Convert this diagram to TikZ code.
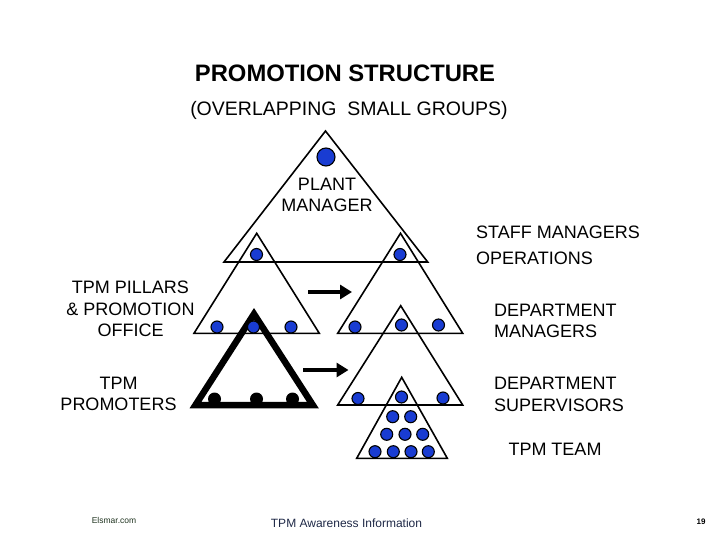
\documentclass[tikz,border=0pt]{standalone}
\usepackage{fontspec}
\setmainfont{Liberation Sans}
\usetikzlibrary{arrows.meta}
\definecolor{dotblue}{RGB}{25,60,210}
\definecolor{footnavy}{RGB}{30,40,70}
\definecolor{footgreen}{RGB}{30,50,30}
\tikzset{
  tri/.style={draw=black, line width=1.6pt, line join=miter},
  thicktri/.style={draw=black, line width=6.5pt, line join=miter},
  bdot/.style={circle, draw=black, line width=1.1pt, fill=dotblue, minimum size=12pt, inner sep=0pt},
  bigdot/.style={circle, draw=black, line width=1.1pt, fill=dotblue, minimum size=18pt, inner sep=0pt},
  kdot/.style={circle, fill=black, minimum size=13pt, inner sep=0pt},
  lbl/.style={font=\fontsize{18}{21.5}\selectfont, inner sep=0pt},
  movearrow/.style={line width=4.2pt, -{Triangle[length=12pt,width=14pt]}},
}
\begin{document}
\begin{tikzpicture}[x=1pt,y=-1pt]
\useasboundingbox (0,0) rectangle (720,540);

% titles
\node[font=\fontsize{23.8}{28}\selectfont\bfseries, inner sep=0pt] (title) at (345,73) {PROMOTION STRUCTURE};
\node[font=\fontsize{19.5}{23}\selectfont, inner sep=0pt] (subtitle) at (349,110) {(OVERLAPPING~~SMALL GROUPS)};

% top triangle
\draw[tri] (325.5,131) -- (427.7,262) -- (224,262) -- cycle;
\node[bigdot] (pm) at (326,157) {};
\node[lbl, align=center] (pmlbl) at (327,195) {PLANT\\MANAGER};

% left middle triangle
\draw[tri] (256.7,233.3) -- (319.3,333.3) -- (194,333.3) -- cycle;
% thick promoters triangle
\draw[thicktri] (254,314) -- (312.8,405) -- (195.5,405) -- cycle;
\node[kdot] (k1) at (214.5,399) {};
\node[kdot] (k2) at (256.5,399) {};
\node[kdot] (k3) at (292.5,399) {};
\node[bdot] (l0) at (256.5,254.5) {};
\node[bdot] (l1) at (217,327) {};
\node[bdot] (l2) at (253.5,327) {};
\node[bdot] (l3) at (291,327) {};

% right middle triangle
\draw[tri] (400.5,233.3) -- (462.7,333.3) -- (337.7,333.3) -- cycle;
% lower right triangle
\draw[tri] (400.7,305.7) -- (462.7,405) -- (337.7,405) -- cycle;
% team triangle
\draw[tri] (401.7,377.3) -- (447.3,458.3) -- (356.7,458.3) -- cycle;

\node[bdot] (r0) at (400,254.5) {};
\node[bdot] (r1) at (355,327) {};
\node[bdot] (r2) at (401.5,325) {};
\node[bdot] (r3) at (438.5,325) {};
\node[bdot] (s1) at (358,398.5) {};
\node[bdot] (s2) at (401.5,397) {};
\node[bdot] (s3) at (443,398) {};
\node[bdot] (t1) at (392.7,416.7) {};
\node[bdot] (t2) at (410.7,416.7) {};
\node[bdot] (t3) at (386.7,434.3) {};
\node[bdot] (t4) at (405,434.3) {};
\node[bdot] (t5) at (422.7,434.3) {};
\node[bdot] (t6) at (375,451.7) {};
\node[bdot] (t7) at (393.3,451.7) {};
\node[bdot] (t8) at (411,451.7) {};
\node[bdot] (t9) at (428.3,451.7) {};

% arrows
\coordinate (a1s) at (308,292);
\coordinate (a1e) at (352,292);
\coordinate (a2s) at (303,370);
\coordinate (a2e) at (348.5,370);
\draw[movearrow] (a1s) -- (a1e);
\draw[movearrow] (a2s) -- (a2e);

% labels
\node[lbl, align=left, anchor=west] (staff) at (476,245.8) {STAFF MANAGERS\\[4.5pt]OPERATIONS};
\node[lbl, align=center] (pillars) at (130.5,309) {TPM PILLARS\\\& PROMOTION\\OFFICE};
\node[lbl, align=center] (promoters) at (118.5,394) {TPM\\PROMOTERS};
\node[lbl, align=left, anchor=west] (deptmgr) at (494,321) {DEPARTMENT\\MANAGERS};
\node[lbl, align=left, anchor=west] (deptsup) at (494,394.5) {DEPARTMENT\\SUPERVISORS};
\node[lbl] (team) at (555,449) {TPM TEAM};

% footer
\node[font=\fontsize{8.5}{10}\selectfont, text=footgreen, inner sep=0pt] (site) at (114,520) {Elsmar.com};
\node[font=\fontsize{12}{14}\selectfont, text=footnavy, inner sep=0pt] (foot) at (346.5,523) {TPM Awareness Information};
\node[font=\fontsize{8}{10}\selectfont\bfseries, inner sep=0pt] (page) at (701,522) {19};
\end{tikzpicture}
\end{document}
